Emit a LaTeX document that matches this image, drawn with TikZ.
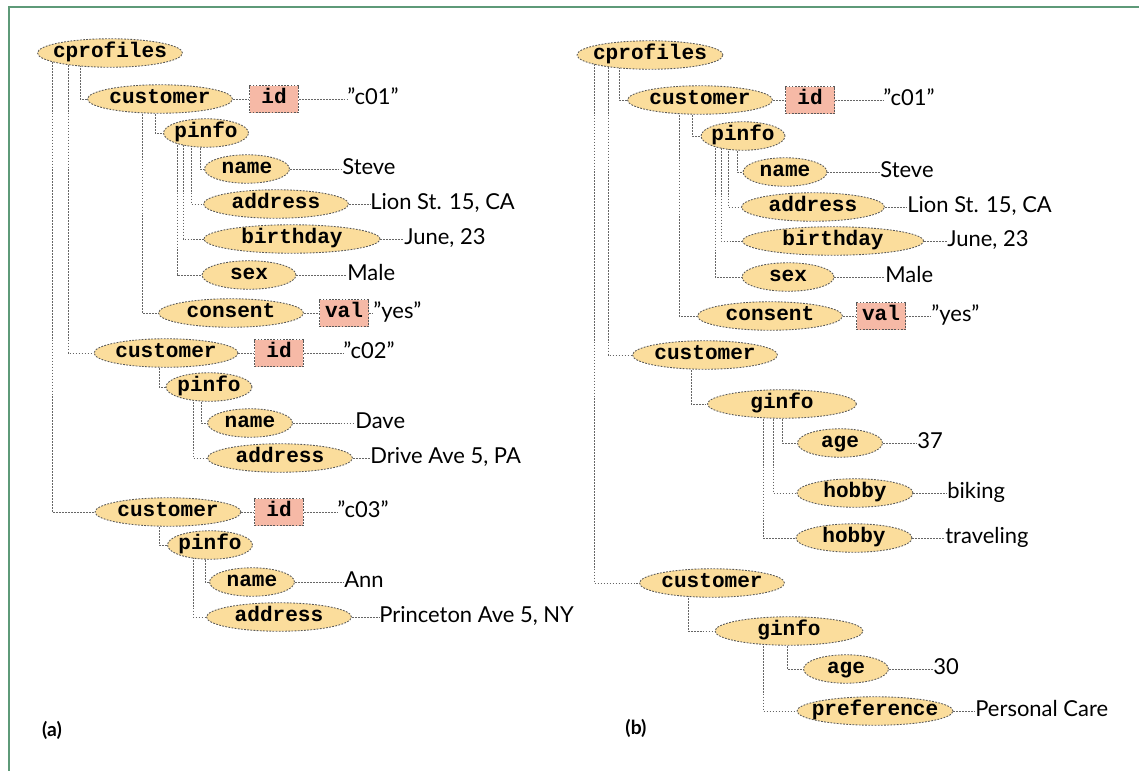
\documentclass[tikz,border=0pt]{standalone}
\usepackage{fontspec}
\setmainfont{Lato}
\setmonofont{Liberation Mono}
\usetikzlibrary{shapes.geometric,calc,backgrounds}
\definecolor{elemfill}{HTML}{FBDD9C}
\definecolor{attrfill}{HTML}{F6B9A6}
\definecolor{framegreen}{HTML}{5E9A78}
\begin{document}
\begin{tikzpicture}[x=0.02cm,y=-0.02cm,
        elem/.style={ellipse,draw=black!65,fill=elemfill,line width=0.5pt,dash pattern=on 1pt off 0.8pt,
            font=\ttfamily\bfseries\fontsize{12}{12}\selectfont,inner xsep=-5pt,inner ysep=0pt,
            minimum height=0.57cm,text height=7pt,text depth=2pt},
        tagw/.style={minimum width=#1*0.02cm},
        attr/.style={rectangle,draw=black!65,fill=attrfill,line width=0.5pt,dash pattern=on 1pt off 0.8pt,
            font=\ttfamily\bfseries\fontsize{12}{12}\selectfont,inner sep=0pt,
            minimum width=0.98cm,minimum height=0.54cm,text height=7pt,text depth=2pt},
        txt/.style={anchor=west,inner sep=0pt,font=\fontsize{12.5}{12.5}\selectfont,text height=8.5pt,text depth=2.5pt},
        link/.style={draw=black!60,line width=0.5pt,dash pattern=on 1pt off 0.7pt},
        panel/.style={font=\bfseries\fontsize{11}{11}\selectfont}]
    \useasboundingbox (0,0) rectangle (1139,771);
    \draw[framegreen,line width=1.4pt] (1139,7) -| (9,771);
    % Left tree (a)
    \node[elem,tagw=145] (acp) at (110,53) {cprofiles};
    \node[elem,tagw=145] (acu1) at (160,99) {customer};
    \node[attr] (aid1) at (274,99) {id};
    \node[txt] (vid1) at (347,99) {"c01"};
    \node[elem,tagw=85] (api1) at (206,133) {pinfo};
    \node[elem,tagw=85] (aname1) at (247,169) {name};
    \node[txt] (vname1) at (342,169) {Steve};
    \node[elem,tagw=145] (aaddr1) at (276,204) {address};
    \node[txt] (vaddr1) at (370,204) {Lion St. 15, CA};
    \node[elem,tagw=176] (abirth1) at (292,239) {birthday};
    \node[txt] (vbirth1) at (404,239) {June, 23};
    \node[elem,tagw=94] (asex1) at (249,275) {sex};
    \node[txt] (vsex1) at (347,275) {Male};
    \node[elem,tagw=145] (acons1) at (231,313) {consent};
    \node[attr] (aval1) at (344,313) {val};
    \node[txt] (vval1) at (373,313) {"yes"};
    \node[elem,tagw=144] (acu2) at (166,353) {customer};
    \node[attr] (aid2) at (279,353) {id};
    \node[txt] (vid2) at (343,353) {"c02"};
    \node[elem,tagw=86] (api2) at (209,387) {pinfo};
    \node[elem,tagw=85] (aname2) at (250,423) {name};
    \node[txt] (vname2) at (355,423) {Dave};
    \node[elem,tagw=145] (aaddr2) at (280,458) {address};
    \node[txt] (vaddr2) at (370,458) {Drive Ave 5, PA};
    \node[elem,tagw=146] (acu3) at (168,512) {customer};
    \node[attr] (aid3) at (279,512) {id};
    \node[txt] (vid3) at (337,512) {"c03"};
    \node[elem,tagw=85] (api3) at (210,545) {pinfo};
    \node[elem,tagw=85] (aname3) at (252,582) {name};
    \node[txt] (vname3) at (344,582) {Ann};
    \node[elem,tagw=145] (aaddr3) at (279,617) {address};
    \node[txt] (vaddr3) at (379,617) {Princeton Ave 5, NY};
    \node[panel] (capa) at (52,730) {(a)};
    % Right tree (b)
    \node[elem,tagw=146] (bcp) at (650,55) {cprofiles};
    \node[elem,tagw=145] (bcu1) at (700,100) {customer};
    \node[attr] (bid1) at (810,100) {id};
    \node[txt] (vbid1) at (883,100) {"c01"};
    \node[elem,tagw=84] (bpi1) at (743,136) {pinfo};
    \node[elem,tagw=84] (bname1) at (785,172) {name};
    \node[txt] (vbname1) at (880,172) {Steve};
    \node[elem,tagw=143] (baddr1) at (813,207) {address};
    \node[txt] (vbaddr1) at (907,207) {Lion St. 15, CA};
    \node[elem,tagw=181] (bbirth1) at (833,241) {birthday};
    \node[txt] (vbbirth1) at (947,241) {June, 23};
    \node[elem,tagw=92] (bsex1) at (788,277) {sex};
    \node[txt] (vbsex1) at (885,277) {Male};
    \node[elem,tagw=145] (bcons1) at (770,316) {consent};
    \node[attr] (bval1) at (881,316) {val};
    \node[txt] (vbval1) at (931,316) {"yes"};
    \node[elem,tagw=145] (bcu2) at (705,355) {customer};
    \node[elem,tagw=149] (bgi1) at (782,404) {ginfo};
    \node[elem,tagw=85] (bage1) at (840,443) {age};
    \node[txt] (vbage1) at (917,443) {37};
    \node[elem,tagw=116] (bhob1) at (855,493) {hobby};
    \node[txt] (vbhob1) at (947,493) {biking};
    \node[elem,tagw=116] (bhob2) at (854,538) {hobby};
    \node[txt] (vbhob2) at (945,538) {traveling};
    \node[elem,tagw=145] (bcu3) at (712,583) {customer};
    \node[elem,tagw=148] (bgi2) at (789,631) {ginfo};
    \node[elem,tagw=85] (bage2) at (846,669) {age};
    \node[txt] (vbage2) at (933,669) {30};
    \node[elem,tagw=156] (bpref) at (875,711) {preference};
    \node[txt] (vbpref) at (975,711) {Personal Care};
    \node[panel] (capb) at (636,728) {(b)};
    % connectors
    \begin{scope}[on background layer]
        \draw[link] ($(acp)+(-30,0)$) |- (acu1.west);
        \draw[link] ($(acp)+(-42,0)$) |- (acu2.west);
        \draw[link] ($(acp)+(-58,0)$) |- (acu3.west);
        \draw[link] ($(acu1)+(-5,0)$) |- (api1.west);
        \draw[link] ($(acu1)+(-18,0)$) |- (acons1.west);
        \draw[link] ($(api1)+(-6,0)$) |- (aname1.west);
        \draw[link] ($(api1)+(-15,0)$) |- (aaddr1.west);
        \draw[link] ($(api1)+(-23,0)$) |- (abirth1.west);
        \draw[link] ($(api1)+(-29,0)$) |- (asex1.west);
        \draw[link] ($(acu2)+(-7,0)$) |- (api2.west);
        \draw[link] ($(api2)+(-8,0)$) |- (aname2.west);
        \draw[link] ($(api2)+(-16,0)$) |- (aaddr2.west);
        \draw[link] ($(acu3)+(-9,0)$) |- (api3.west);
        \draw[link] ($(api3)+(-5,0)$) |- (aname3.west);
        \draw[link] ($(api3)+(-17,0)$) |- (aaddr3.west);
        \draw[link] (acu1) -- (aid1) -- (vid1);
        \draw[link] (acu2) -- (aid2) -- (vid2);
        \draw[link] (acu3) -- (aid3) -- (vid3);
        \draw[link] (acons1) -- (aval1) -- (vval1);
        \draw[link] (aname1) -- (vname1);
        \draw[link] (aaddr1) -- (vaddr1);
        \draw[link] (abirth1) -- (vbirth1);
        \draw[link] (asex1) -- (vsex1);
        \draw[link] (aname2) -- (vname2);
        \draw[link] (aaddr2) -- (vaddr2);
        \draw[link] (aname3) -- (vname3);
        \draw[link] (aaddr3) -- (vaddr3);
        \draw[link] ($(bcp)+(-31,0)$) |- (bcu1.west);
        \draw[link] ($(bcp)+(-42,0)$) |- (bcu2.west);
        \draw[link] ($(bcp)+(-56,0)$) |- (bcu3.west);
        \draw[link] ($(bcu1)+(-8,0)$) |- (bpi1.west);
        \draw[link] ($(bcu1)+(-21,0)$) |- (bcons1.west);
        \draw[link] ($(bpi1)+(-6,0)$) |- (bname1.west);
        \draw[link] ($(bpi1)+(-15,0)$) |- (baddr1.west);
        \draw[link] ($(bpi1)+(-22,0)$) |- (bbirth1.west);
        \draw[link] ($(bpi1)+(-28,0)$) |- (bsex1.west);
        \draw[link] ($(bcu2)+(-14,0)$) |- (bgi1.west);
        \draw[link] ($(bgi1)+(0,0)$) |- (bage1.west);
        \draw[link] ($(bgi1)+(-9,0)$) |- (bhob1.west);
        \draw[link] ($(bgi1)+(-19,0)$) |- (bhob2.west);
        \draw[link] ($(bcu3)+(-24,0)$) |- (bgi2.west);
        \draw[link] ($(bgi2)+(-2,0)$) |- (bage2.west);
        \draw[link] ($(bgi2)+(-26,0)$) |- (bpref.west);
        \draw[link] (bcu1) -- (bid1) -- (vbid1);
        \draw[link] (bcons1) -- (bval1) -- (vbval1);
        \draw[link] (bname1) -- (vbname1);
        \draw[link] (baddr1) -- (vbaddr1);
        \draw[link] (bbirth1) -- (vbbirth1);
        \draw[link] (bsex1) -- (vbsex1);
        \draw[link] (bage1) -- (vbage1);
        \draw[link] (bhob1) -- (vbhob1);
        \draw[link] (bhob2) -- (vbhob2);
        \draw[link] (bage2) -- (vbage2);
        \draw[link] (bpref) -- (vbpref);
    \end{scope}
\end{tikzpicture}
\end{document}
